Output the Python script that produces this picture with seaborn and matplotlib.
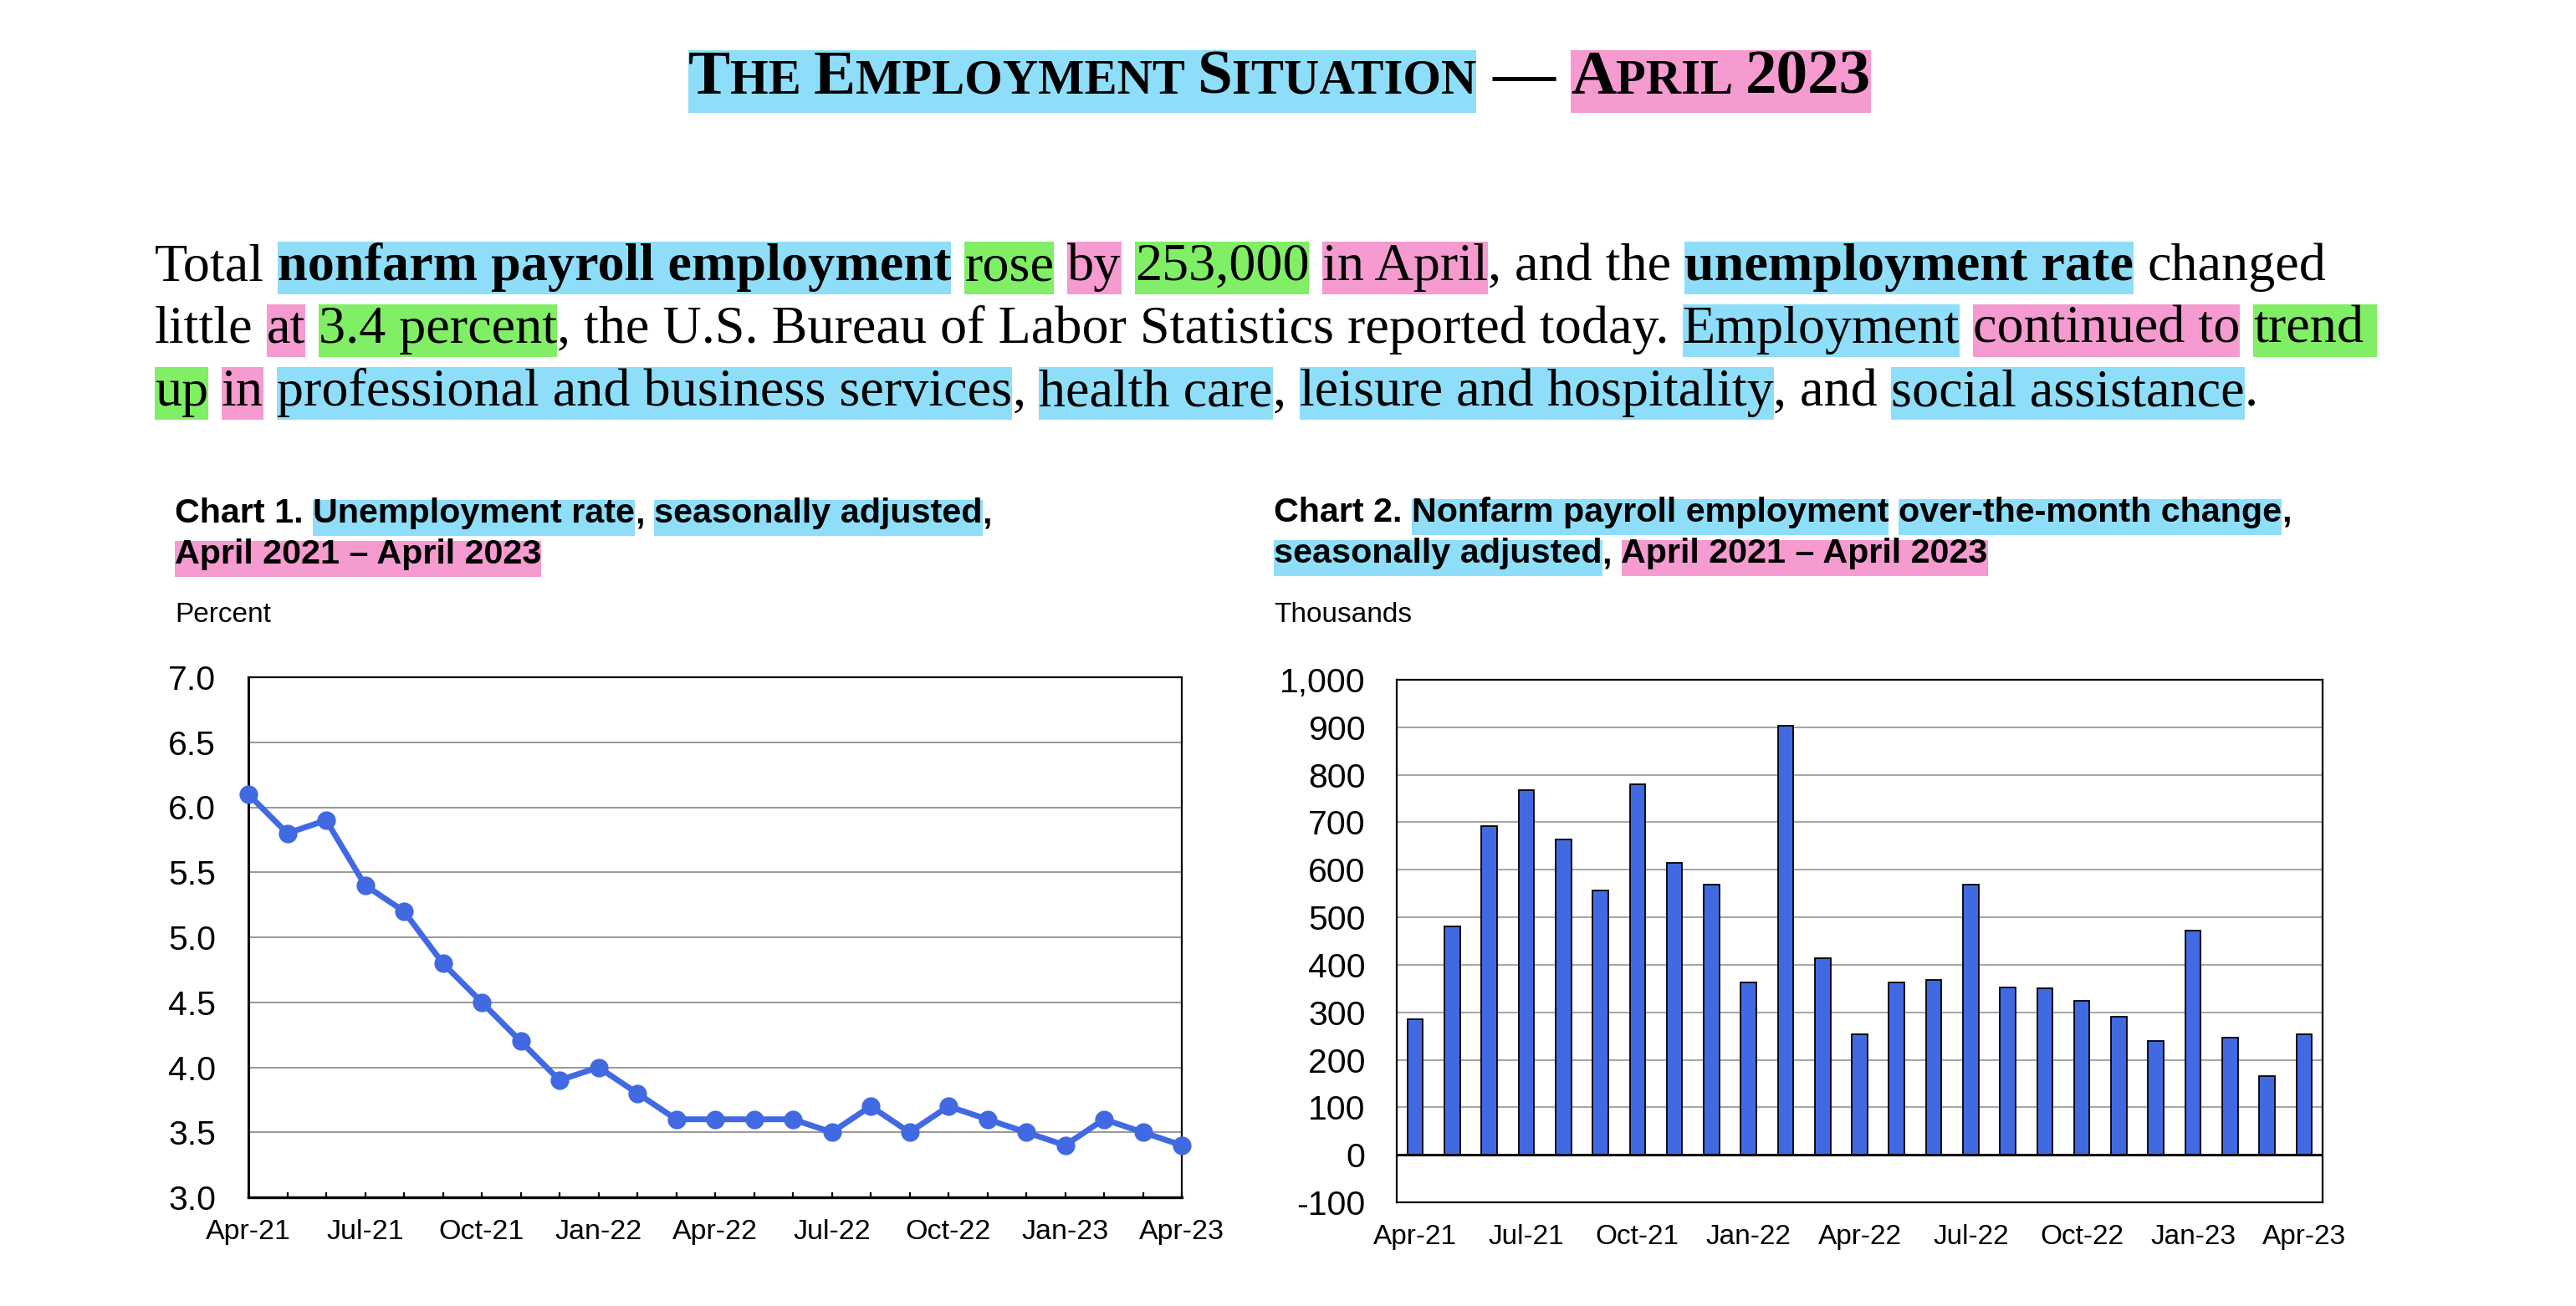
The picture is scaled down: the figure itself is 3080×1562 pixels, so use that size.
import numpy as np
import pandas as pd
import seaborn as sns
from matplotlib import pyplot as plt
from matplotlib.patches import Rectangle

# data ---------------------------------------------------------------------------------------------
months = ['Apr-21', 'May-21', 'Jun-21', 'Jul-21', 'Aug-21', 'Sep-21', 'Oct-21', 'Nov-21', 'Dec-21',
          'Jan-22', 'Feb-22', 'Mar-22', 'Apr-22', 'May-22', 'Jun-22', 'Jul-22', 'Aug-22', 'Sep-22',
          'Oct-22', 'Nov-22', 'Dec-22', 'Jan-23', 'Feb-23', 'Mar-23', 'Apr-23']
unemployment_rate = [6.1, 5.8, 5.9, 5.4, 5.2, 4.8, 4.5, 4.2, 3.9, 4.0, 3.8, 3.6, 3.6,
                     3.6, 3.6, 3.5, 3.7, 3.5, 3.7, 3.6, 3.5, 3.4, 3.6, 3.5, 3.4]
payroll_change = [285, 481, 692, 768, 663, 556, 780, 614, 569, 363, 904, 414, 253,
                  363, 369, 568, 352, 350, 325, 291, 239, 472, 247, 165, 253]
rate_ticks = [3.0, 3.5, 4.0, 4.5, 5.0, 5.5, 6.0, 6.5, 7.0]
payroll_ticks = [-100, 0, 100, 200, 300, 400, 500, 600, 700, 800, 900, 1000]

BLUE = '#4169E1'
HL_BLUE = '#8FDEF9'
HL_PINK = '#F59BD0'
HL_GREEN = '#80EF65'

sns.set_style('white')
plt.rcParams['font.family'] = ['Liberation Sans', 'DejaVu Sans']
plt.rcParams['text.color'] = 'black'
plt.rcParams['xtick.color'] = 'black'
plt.rcParams['ytick.color'] = 'black'

W, H = 3080, 1562
fig = plt.figure(figsize=(W / 100, H / 100), dpi=100)
renderer = fig.canvas.get_renderer()


def px(x, y):
    return x / W, 1 - y / H


def text_width(s, **kw):
    t = fig.text(0, 0, s, **kw)
    w = t.get_window_extent(renderer).width
    t.remove()
    return w


def pieces(s):
    core = s.strip(' ')
    if not core:
        return len(s), '', 0
    return len(s) - len(s.lstrip(' ')), core, len(s) - len(s.rstrip(' '))


def run_width(runs, size, family):
    total = 0
    for s, hl, weight, scale in runs:
        kw = dict(fontsize=size * scale, family=family, weight=weight)
        sp = text_width('n n', **kw) - text_width('nn', **kw)
        lead, core, trail = pieces(s)
        total += (lead + trail) * sp
        if core:
            total += text_width(core, **kw)
    return total


def draw_runs(runs, x, base, size, family, up, down):
    # draws text pieces one after another, with a coloured box behind the highlighted ones
    for s, hl, weight, scale in runs:
        kw = dict(fontsize=size * scale, family=family, weight=weight)
        sp = text_width('n n', **kw) - text_width('nn', **kw)
        lead, core, trail = pieces(s)
        x0 = x
        x += lead * sp
        if core:
            t = fig.text(*px(x, base), core, va='baseline', ha='left', **kw)
            x += t.get_window_extent(renderer).width
        x += trail * sp
        if hl:
            fig.add_artist(Rectangle(px(x0, base + down), (x - x0) / W, (up + down) / H,
                                     transform=fig.transFigure, color=hl, lw=0, zorder=0))
    return x


# headline -----------------------------------------------------------------------------------------
SERIF = 'Liberation Serif'
SC = 0.78
title_blue = [('T', HL_BLUE, 'bold', 1), ('HE ', HL_BLUE, 'bold', SC), ('E', HL_BLUE, 'bold', 1),
              ('MPLOYMENT ', HL_BLUE, 'bold', SC), ('S', HL_BLUE, 'bold', 1), ('ITUATION', HL_BLUE, 'bold', SC)]
title_rest = [(' \u2014 ', None, 'bold', 1), ('A', HL_PINK, 'bold', 1), ('PRIL ', HL_PINK, 'bold', SC),
              ('2023', HL_PINK, 'bold', 1)]
tsize = 54 * 942 / run_width(title_blue, 54, SERIF)
draw_runs(title_blue + title_rest, 823, 112, tsize, SERIF, 52, 23)

# paragraph ----------------------------------------------------------------------------------------
line1 = [('Total ', None, 'normal', 1), ('nonfarm payroll employment', HL_BLUE, 'bold', 1),
         (' ', None, 'normal', 1), ('rose', HL_GREEN, 'normal', 1), (' ', None, 'normal', 1),
         ('by', HL_PINK, 'normal', 1), (' ', None, 'normal', 1), ('253,000', HL_GREEN, 'normal', 1),
         (' ', None, 'normal', 1), ('in April', HL_PINK, 'normal', 1), (', and the ', None, 'normal', 1),
         ('unemployment rate', HL_BLUE, 'bold', 1), (' changed', None, 'normal', 1)]
line2 = [('little ', None, 'normal', 1), ('at', HL_PINK, 'normal', 1), (' ', None, 'normal', 1),
         ('3.4 percent', HL_GREEN, 'normal', 1),
         (', the U.S. Bureau of Labor Statistics reported today. ', None, 'normal', 1),
         ('Employment', HL_BLUE, 'normal', 1), (' ', None, 'normal', 1),
         ('continued to', HL_PINK, 'normal', 1), (' ', None, 'normal', 1), ('trend ', HL_GREEN, 'normal', 1)]
line3 = [('up', HL_GREEN, 'normal', 1), (' ', None, 'normal', 1), ('in', HL_PINK, 'normal', 1),
         (' ', None, 'normal', 1), ('professional and business services', HL_BLUE, 'normal', 1),
         (', ', None, 'normal', 1), ('health care', HL_BLUE, 'normal', 1), (', ', None, 'normal', 1),
         ('leisure and hospitality', HL_BLUE, 'normal', 1), (', and ', None, 'normal', 1),
         ('social assistance', HL_BLUE, 'normal', 1), ('.', None, 'normal', 1)]
psize = 45 * 2592 / run_width(line1, 45, SERIF)
for i, line in enumerate([line1, line2, line3]):
    draw_runs(line, 185, 335 + 75 * i, psize, SERIF, 46, 17)

# chart titles -------------------------------------------------------------------------------------
SANS = 'Liberation Sans'
c1_l1 = [('Chart 1. ', None, 'bold', 1), ('Unemployment rate', HL_BLUE, 'bold', 1), (', ', None, 'bold', 1),
         ('seasonally adjusted', HL_BLUE, 'bold', 1), (',', None, 'bold', 1)]
c1_l2 = [('April 2021 \u2013 April 2023', HL_PINK, 'bold', 1)]
c2_l1 = [('Chart 2. ', None, 'bold', 1), ('Nonfarm payroll employment', HL_BLUE, 'bold', 1),
         (' ', None, 'bold', 1), ('over-the-month change', HL_BLUE, 'bold', 1), (',', None, 'bold', 1)]
c2_l2 = [('seasonally adjusted', HL_BLUE, 'bold', 1), (', ', None, 'bold', 1),
         ('April 2021 \u2013 April 2023', HL_PINK, 'bold', 1)]
csize = 26 * 976 / run_width(c1_l1, 26, SANS)
draw_runs(c1_l1, 209, 625, csize, SANS, 27, 16)
draw_runs(c1_l2, 209, 674, csize, SANS, 27, 16)
draw_runs(c2_l1, 1523, 624, csize, SANS, 27, 16)
draw_runs(c2_l2, 1523, 673, csize, SANS, 27, 16)

fig.text(*px(209, 744), 'Percent', fontsize=24, family=SANS, va='baseline')
fig.text(*px(1523, 744), 'Thousands', fontsize=24, family=SANS, va='baseline')

# chart 1 ------------------------------------------------------------------------------------------
df1 = pd.DataFrame({'pos': np.arange(len(months)), 'rate': unemployment_rate})
ax1 = fig.add_axes([297 / W, 1 - 1432 / H, (1413 - 297) / W, (1432 - 810) / H])
sns.lineplot(data=df1, x='pos', y='rate', ax=ax1, color=BLUE, linewidth=5, marker='o',
             markersize=16, markeredgewidth=0, clip_on=False, zorder=5)
ax1.set_xlim(0, len(months) - 1)
ax1.set_ylim(rate_ticks[0], rate_ticks[-1])
ax1.set_yticks(rate_ticks)
ax1.set_yticklabels([f'{v:.1f}' for v in rate_ticks])
ax1.set_xticks(range(0, len(months), 3))
ax1.set_xticklabels(months[::3])
ax1.set_xticks(range(len(months)), minor=True)
ax1.yaxis.grid(True, color='#7a7a7a', linewidth=1.1)
ax1.xaxis.grid(False)
ax1.tick_params(axis='x', which='both', direction='in', bottom=True, length=4.5, width=1.6,
                color='black', labelsize=24.5, pad=19)
ax1.tick_params(axis='y', length=0, labelsize=29.5, pad=28)
ax1.set_xlabel('')
ax1.set_ylabel('')
for side, lw in [('left', 2.2), ('bottom', 2.4), ('top', 1.6), ('right', 1.6)]:
    ax1.spines[side].set_color('black')
    ax1.spines[side].set_linewidth(lw)

# chart 2 ------------------------------------------------------------------------------------------
df2 = pd.DataFrame({'month': months, 'change': payroll_change})
ax2 = fig.add_axes([1670 / W, 1 - 1438 / H, (2777 - 1670) / W, (1438 - 813) / H])
sns.barplot(data=df2, x='month', y='change', ax=ax2, color=BLUE, saturation=1, width=0.42,
            edgecolor='black', linewidth=1.3, zorder=3)
ax2.axhline(0, color='black', linewidth=2.2, zorder=4)
ax2.set_xlim(-0.5, len(months) - 0.5)
ax2.set_ylim(payroll_ticks[0], payroll_ticks[-1])
ax2.set_yticks(payroll_ticks)
ax2.set_yticklabels([f'{v:,}' for v in payroll_ticks])
ax2.set_xticks(range(0, len(months), 3))
ax2.set_xticklabels(months[::3])
ax2.set_axisbelow(True)
ax2.yaxis.grid(True, color='#8c8c8c', linewidth=1.1)
ax2.xaxis.grid(False)
ax2.tick_params(axis='x', length=0, labelsize=24, pad=19)
ax2.tick_params(axis='y', length=0, labelsize=29.5, pad=27)
ax2.set_xlabel('')
ax2.set_ylabel('')
for side in ['left', 'bottom', 'top', 'right']:
    ax2.spines[side].set_color('black')
    ax2.spines[side].set_linewidth(1.6)

fig.savefig('out.png', dpi=100, facecolor='white')
